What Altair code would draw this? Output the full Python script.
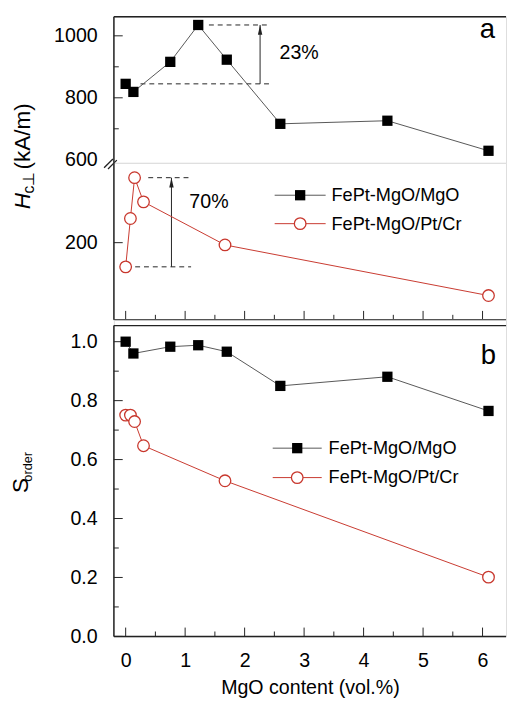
import altair as alt
import pandas as pd

# ---------------- data ----------------
series = ["FePt-MgO/MgO", "FePt-MgO/Pt/Cr"]

x_mgo = [0.0, 0.13, 0.75, 1.22, 1.70, 2.60, 4.40, 6.10]
hc_mgo = [845, 819, 916, 1035, 923, 716, 726, 629]
s_mgo = [1.000, 0.960, 0.983, 0.988, 0.966, 0.850, 0.881, 0.765]

x_ptcr = [0.0, 0.08, 0.15, 0.30, 1.67, 6.10]
hc_ptcr = [168, 232, 286, 254, 197, 130]
s_ptcr = [0.751, 0.751, 0.729, 0.647, 0.528, 0.201]

x_major = [0, 1, 2, 3, 4, 5, 6]
x_minor = [0.5, 1.5, 2.5, 3.5, 4.5, 5.5]
hc_hi_labels = [600, 800, 1000]
hc_hi_major = [800, 1000]
hc_hi_minor = [700, 900]
hc_lo_labels = [200]
hc_lo_major = [200]
s_labels = [0.0, 0.2, 0.4, 0.6, 0.8, 1.0]
s_minor = [0.1, 0.3, 0.5, 0.7, 0.9]

pct_labels = ["23%", "70%"]
panel_labels = ["a", "b"]
x_title = "MgO content (vol.%)"

# annotation placement (data units along x)
arrow_x = [2.26, 0.77]
dash_x_lo = [[0.25, 2.42], [0.16, 1.10]]
dash_x_hi = [[1.40, 2.42], [0.38, 1.10]]

# ---------------- styling ----------------
W = 400
H_UP, H_LO, H_B = 149, 160, 323
GAP = 6
FONT = "Liberation Sans"
RED = "#c8372d"
GREY = "#555555"
INK = "#222222"

xs = alt.Scale(domain=[-0.198, 6.395], nice=False, zero=False)
ys_up = alt.Scale(domain=[590, 1061.4], nice=False, zero=False)
ys_lo = alt.Scale(domain=[98, 305.6], nice=False, zero=False)
ys_b = alt.Scale(domain=[0, 1.0745], nice=False, zero=False)


def yaxis(values, fmt):
    return alt.Axis(values=values, format=fmt, title=None, ticks=False, tickSize=0,
                    domain=False, grid=False, labelFontSize=20, labelFont=FONT,
                    labelColor="black", labelPadding=17, labelOverlap=False)


ax_up = yaxis(hc_hi_labels, "d")
ax_lo = yaxis(hc_lo_labels, "d")
ax_b = yaxis(s_labels, ".1f")
ax_x = alt.Axis(values=x_major, format="d", title=x_title, titleFont=FONT,
                titleFontSize=20, titleFontWeight="normal", titleColor="black",
                titlePadding=7, ticks=False, tickSize=0, domain=False, grid=False,
                labelFontSize=20, labelFont=FONT, labelColor="black",
                labelPadding=15, labelFlush=False, labelOverlap=False)

ONE = pd.DataFrame({"k": [0]})


def series_layers(xv, yv, ys, xaxis, yax, kind):
    df = pd.DataFrame({"x": xv, "y": yv})
    base = alt.Chart(df).encode(
        x=alt.X("x:Q", scale=xs, axis=xaxis),
        y=alt.Y("y:Q", scale=ys, axis=yax),
    )
    if kind == 0:
        line = base.mark_line(color=GREY, strokeWidth=1)
        pts = base.mark_point(shape="square", filled=True, color="black", size=110, opacity=1)
    else:
        line = base.mark_line(color=RED, strokeWidth=1)
        pts = base.mark_point(shape="circle", filled=True, fill="white", stroke=RED,
                              strokeWidth=1.3, size=140, opacity=1)
    return [line, pts]


def xticks(h, xaxis):
    out = []
    for vals, ln in ((x_major, 9), (x_minor, 5)):
        out.append(alt.Chart(pd.DataFrame({"v": vals})).mark_rule(color=INK, strokeWidth=1).encode(
            x=alt.X("v:Q", scale=xs, axis=xaxis), y=alt.value(h), y2=alt.value(h - ln)))
    return out


def yticks(major, minor, ys, yax):
    out = []
    for vals, ln in ((major, 9), (minor, 5)):
        if not vals:
            continue
        out.append(alt.Chart(pd.DataFrame({"v": vals})).mark_rule(color=INK, strokeWidth=1).encode(
            y=alt.Y("v:Q", scale=ys, axis=yax), x=alt.value(0), x2=alt.value(ln)))
    return out


def frame(y0, y1, top=None, bottom=None):
    out = [alt.Chart(ONE).mark_rule(color=INK, strokeWidth=1.5).encode(
        x=alt.value(0), y=alt.value(y0), y2=alt.value(y1))]
    for yy in (top, bottom):
        if yy is not None:
            out.append(alt.Chart(ONE).mark_rule(color=INK, strokeWidth=1.5).encode(
                x=alt.value(0), x2=alt.value(W), y=alt.value(yy)))
    return out


def legend(rows, x_line, x_mark, x_text):
    out = []
    for i, name in enumerate(series):
        col = GREY if i == 0 else RED
        out.append(alt.Chart(ONE).mark_rule(color=col, strokeWidth=1).encode(
            x=alt.value(x_line[0]), x2=alt.value(x_line[1]), y=alt.value(rows[i])))
        if i == 0:
            out.append(alt.Chart(ONE).mark_point(shape="square", filled=True, color="black",
                                                 size=110, opacity=1).encode(
                x=alt.value(x_mark), y=alt.value(rows[i])))
        else:
            out.append(alt.Chart(ONE).mark_point(shape="circle", filled=True, fill="white",
                                                 stroke=RED, strokeWidth=1.3, size=140,
                                                 opacity=1).encode(
                x=alt.value(x_mark), y=alt.value(rows[i])))
        out.append(alt.Chart(pd.DataFrame({"name": [name]})).mark_text(
            align="left", baseline="middle", font=FONT, fontSize=18.5, color="black").encode(
            x=alt.value(x_text), y=alt.value(rows[i]), text="name:N"))
    return out


def pct_arrow(i, lo, hi, ys, yax):
    out = []
    dd = pd.DataFrame({"x0": [dash_x_lo[i][0], dash_x_hi[i][0]],
                       "x1": [dash_x_lo[i][1], dash_x_hi[i][1]],
                       "y": [lo, hi]})
    out.append(alt.Chart(dd).mark_rule(color=INK, strokeWidth=1, strokeDash=[5, 4]).encode(
        x=alt.X("x0:Q", scale=xs, axis=None), x2="x1:Q",
        y=alt.Y("y:Q", scale=ys, axis=yax)))
    ad = pd.DataFrame({"x": [arrow_x[i]], "lo": [lo], "hi": [hi]})
    out.append(alt.Chart(ad).mark_rule(color=INK, strokeWidth=1).encode(
        x=alt.X("x:Q", scale=xs, axis=None),
        y=alt.Y("lo:Q", scale=ys, axis=yax), y2="hi:Q"))
    out.append(alt.Chart(ad).mark_point(shape="M0,-1L-0.45,1L0.45,1Z", filled=True,
                                        color=INK, size=100, opacity=1, yOffset=5).encode(
        x=alt.X("x:Q", scale=xs, axis=None),
        y=alt.Y("hi:Q", scale=ys, axis=yax)))
    return out


def text_at(txt, x, y, size, **kw):
    return alt.Chart(pd.DataFrame({"t": [txt]})).mark_text(
        font=FONT, fontSize=size, color="black", **kw).encode(
        x=alt.value(x), y=alt.value(y), text="t:N")


# ---------------- panel a, upper segment ----------------
up_layers = []
up_layers += frame(0, H_UP, top=0)
up_layers += yticks(hc_hi_major, hc_hi_minor, ys_up, ax_up)
up_layers += pct_arrow(0, hc_mgo[0], max(hc_mgo), ys_up, ax_up)
up_layers += series_layers(x_mgo, hc_mgo, ys_up, None, ax_up, 0)
up_layers.append(text_at(pct_labels[0], 169, 37, 20, align="left", baseline="middle"))
up_layers.append(text_at(panel_labels[0], 381, 21.5, 28, align="center", baseline="alphabetic"))
# axis break marks
for dx in (0, 4):
    up_layers.append(alt.Chart(ONE).mark_rule(color=INK, strokeWidth=1.3).encode(
        x=alt.value(-10 + dx), x2=alt.value(-1 + dx), y=alt.value(H_UP + 5 + dx * 0.3),
        y2=alt.value(H_UP - 4 + dx * 0.3)))
# y title  H_c⊥ (kA/m)
up_layers.append(text_at("H", -86, 188, 23, angle=270, align="center",
                         baseline="alphabetic", fontStyle="italic"))
up_layers.append(text_at("c\u22a5", -81, 169, 16, angle=270, align="center",
                         baseline="alphabetic"))
up_layers.append(text_at("(kA/m)", -86, 122, 23, angle=270, align="center",
                         baseline="alphabetic"))
upper = alt.layer(*up_layers).properties(width=W, height=H_UP)

# ---------------- panel a, lower segment ----------------
lo_layers = []
lo_layers += frame(0, H_LO, bottom=H_LO)
lo_layers += xticks(H_LO, None)
lo_layers += yticks(hc_lo_major, [], ys_lo, ax_lo)
lo_layers += pct_arrow(1, hc_ptcr[0], max(hc_ptcr), ys_lo, ax_lo)
lo_layers += series_layers(x_ptcr, hc_ptcr, ys_lo, None, ax_lo, 1)
lo_layers.append(text_at(pct_labels[1], 77, 40, 20, align="left", baseline="middle"))
lo_layers += legend([33, 62], [164, 216], 190, 222)
lower = alt.layer(*lo_layers).properties(width=W, height=H_LO)

# ---------------- panel b ----------------
b_layers = []
b_layers += frame(GAP, H_B, top=GAP, bottom=H_B)
b_layers += xticks(H_B, ax_x)
b_layers += yticks(s_labels, s_minor, ys_b, ax_b)
b_layers += series_layers(x_mgo, s_mgo, ys_b, ax_x, ax_b, 0)
b_layers += series_layers(x_ptcr, s_ptcr, ys_b, ax_x, ax_b, 1)
b_layers += legend([131, 161], [162, 212], 187, 219)
b_layers.append(text_at(panel_labels[1], 382, 45, 28, align="center", baseline="alphabetic"))
b_layers.append(text_at("S", -88, 169, 23, angle=270, align="center", baseline="alphabetic"))
b_layers.append(text_at("order", -84, 150, 13, angle=270, align="center", baseline="alphabetic"))
bottom = alt.layer(*b_layers).properties(width=W, height=H_B)

chart = (
    alt.vconcat(upper, lower, bottom, spacing=0, bounds="flush")
    .properties(padding={"left": 1, "top": 0, "right": 0, "bottom": 0})
    .configure_view(stroke=None)
    .configure(font=FONT)
)

chart.save("out.html", embed_options={"renderer": "svg", "actions": False})
